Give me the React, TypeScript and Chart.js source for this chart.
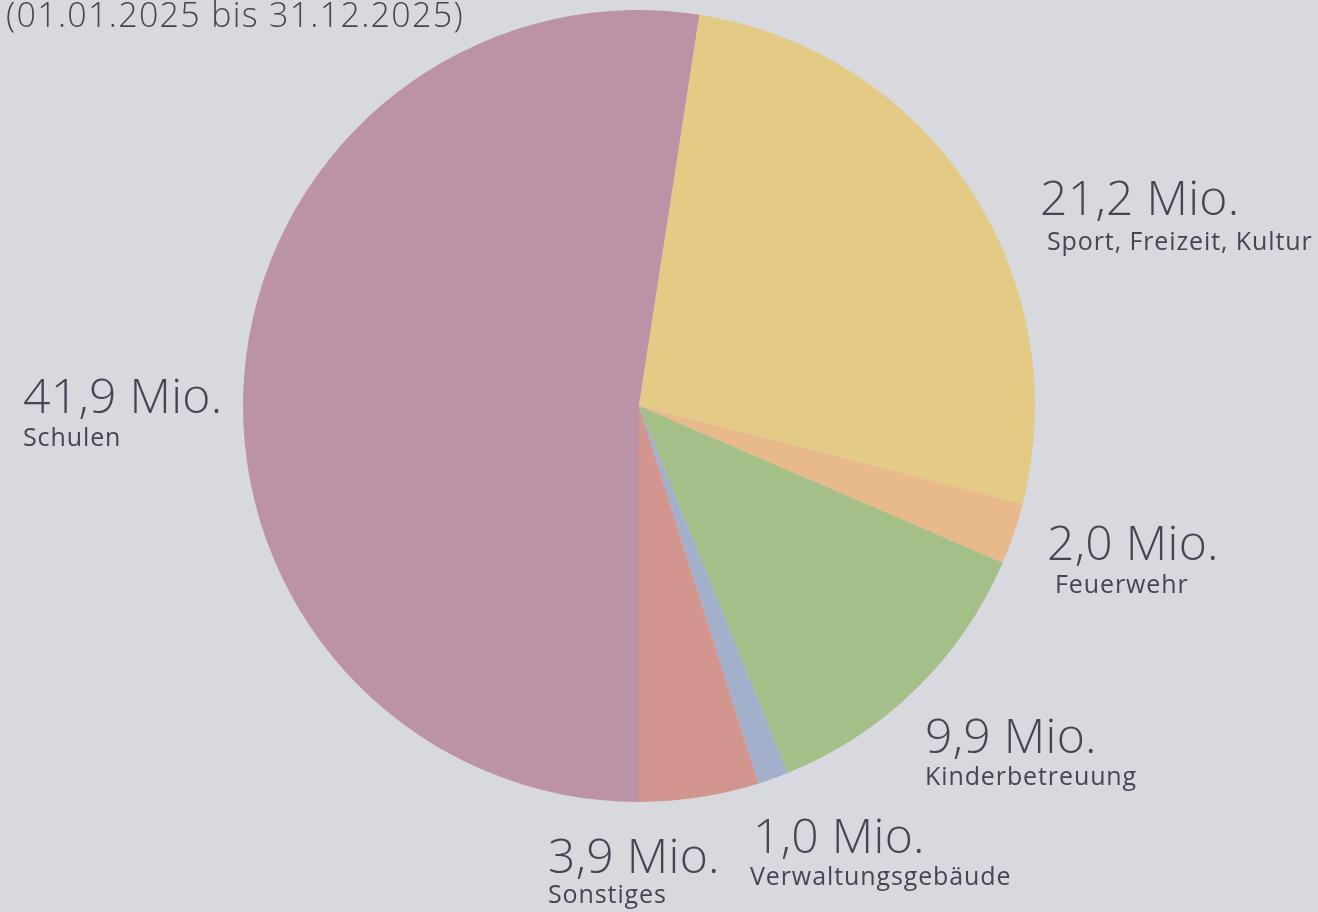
import React, { useEffect, useRef } from "react";
import { Chart, registerables } from "chart.js";

Chart.register(...registerables);

const categories = ["Schulen", "Sport, Freizeit, Kultur", "Feuerwehr", "Kinderbetreuung", "Verwaltungsgebäude", "Sonstiges"];
const values = [41.9, 21.2, 2.0, 9.9, 1.0, 3.9];
const valueLabels = ["41,9 Mio.", "21,2 Mio.", "2,0 Mio.", "9,9 Mio.", "1,0 Mio.", "3,9 Mio."];
const colors = ["#bc93a6", "#e3cb85", "#e8b98a", "#a5bf89", "#a3b0cc", "#d3968f"];
const subtitle = "(01.01.2025 bis 31.12.2025)";

// label layout: [x big, baseline big, x small, baseline small]
const labelLayout = [
  [23, 413, 23, 446],
  [1040, 215, 1047, 250],
  [1047, 560, 1055, 593],
  [925, 753, 925, 785],
  [753, 853, 750, 885],
  [548, 873, 548, 903],
];

const BG = "#d8d9de";
const TEXT = "#454655";
const FONT = "'Open Sans', 'Noto Sans', sans-serif";

export default function App() {
  const ref = useRef<HTMLCanvasElement>(null);
  useEffect(() => {
    const canvas = ref.current;
    if (!canvas) return;
    const bgPlugin = {
      id: "bg",
      beforeDraw(chart: any) {
        const ctx = chart.ctx;
        ctx.save();
        ctx.fillStyle = BG;
        ctx.fillRect(0, 0, chart.width, chart.height);
        ctx.restore();
      },
    };
    const labelPlugin = {
      id: "labels",
      afterDraw(chart: any) {
        const ctx = chart.ctx;
        ctx.save();
        ctx.fillStyle = TEXT;
        ctx.textAlign = "left";
        ctx.textBaseline = "alphabetic";
        ctx.font = `300 34px ${FONT}`;
        ctx.letterSpacing = "1.3px";
        ctx.fillText(subtitle, 6, 27);
        categories.forEach((c, i) => {
          const [bx, by, sx, sy] = labelLayout[i];
          ctx.font = `300 48px ${FONT}`;
          ctx.letterSpacing = "0.3px";
          ctx.fillText(valueLabels[i], bx, by);
          ctx.font = `400 25px ${FONT}`;
          ctx.letterSpacing = "0.9px";
          ctx.fillText(c, sx, sy);
        });
        ctx.restore();
      },
    };
    const chart = new Chart(canvas, {
      type: "pie",
      data: {
        labels: categories,
        datasets: [
          {
            data: values,
            backgroundColor: colors,
            borderWidth: 0,
          },
        ],
      },
      options: {
        responsive: false,
        animation: false,
        rotation: 180,
        layout: { padding: { top: 10, bottom: 110, left: 243, right: 283 } },
        plugins: {
          legend: { display: false },
          tooltip: { enabled: false },
          title: { display: false },
        },
      },
      plugins: [bgPlugin, labelPlugin],
    });
    return () => chart.destroy();
  }, []);
  return (
    <div style={{ position: "fixed", left: 0, top: 0, width: 1318, height: 912, background: BG }}>
      <canvas ref={ref} width={1318} height={912} style={{ width: 1318, height: 912, display: "block" }} />
    </div>
  );
}
